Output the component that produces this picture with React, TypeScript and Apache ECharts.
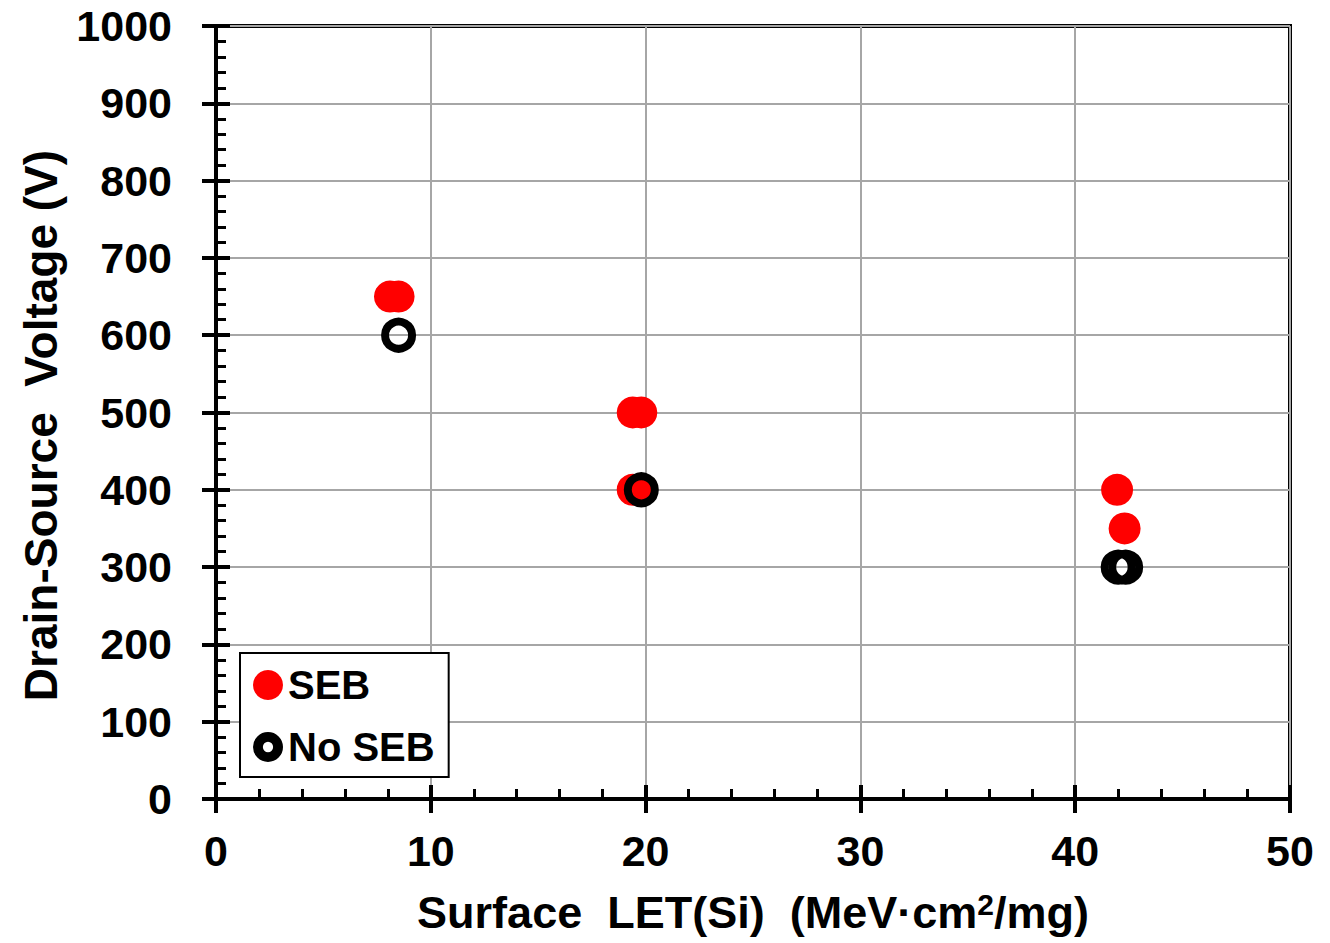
import React, { useEffect, useRef } from "react";
import * as echarts from "echarts";

const SEB_X = [8.1, 8.5, 19.4, 19.8, 19.4, 19.8, 41.95, 42.3];
const SEB_Y = [650, 650, 500, 500, 400, 400, 400, 350];
const NOSEB_X = [8.5, 19.8, 42.0, 42.35];
const NOSEB_Y = [600, 400, 300, 300];

const X_MIN = 0, X_MAX = 50, X_STEP = 10;
const Y_MIN = 0, Y_MAX = 1000, Y_STEP = 100;

const FONT = "'Liberation Sans', Arial, sans-serif";
const RING_PATH =
  "path://M16,0 A16,16 0 1,1 16,32 A16,16 0 1,1 16,0 Z M16,10.5 A5.5,5.5 0 1,0 16,21.5 A5.5,5.5 0 1,0 16,10.5 Z";

export default function App() {
  const ref = useRef<HTMLDivElement>(null);
  useEffect(() => {
    if (!ref.current) return;
    const chart = echarts.init(ref.current, null, { renderer: "svg" });
    const axisLine = { show: true, lineStyle: { color: "#000", width: 4 } };
    const label = { color: "#000", fontSize: 43, fontWeight: "bold" as const, fontFamily: FONT };
    const split = { show: true, lineStyle: { color: "#a6a6a6", width: 2 } };
    const fmt = (v: number) => String(v);
    chart.setOption({
      animation: false,
      grid: {
        left: 216, top: 26, right: 40, bottom: 144,
        show: true, borderColor: "#000", borderWidth: 4, backgroundColor: "#fff",
      },
      xAxis: [
        {
          type: "value", min: X_MIN, max: X_MAX, interval: X_STEP, position: "bottom", offset: 0,
          axisLine, axisTick: { show: true, inside: false, length: 14, lineStyle: { color: "#000", width: 4 } },
          axisLabel: { ...label, margin: 30, formatter: fmt },
          splitLine: split,
          name: "Surface  LET(Si)  (MeV·cm{sup|2}/mg)",
          nameLocation: "middle", nameGap: 90,
          nameTextStyle: {
            ...label, fontSize: 45,
            rich: { sup: { fontSize: 30, fontWeight: "bold", fontFamily: FONT, color: "#000", padding: [0, 0, 16, 0] } },
          },
        },
        {
          type: "value", min: X_MIN, max: X_MAX, interval: X_STEP, position: "bottom", offset: 0,
          axisLine, axisTick: { show: true, inside: true, length: 14, lineStyle: { color: "#000", width: 4 } },
          minorTick: { show: true, splitNumber: 5, length: 10, lineStyle: { color: "#000", width: 3 } },
          axisLabel: { show: false }, splitLine: { show: false },
        },
      ],
      yAxis: [
        {
          type: "value", min: Y_MIN, max: Y_MAX, interval: Y_STEP, position: "left", offset: 0,
          axisLine, axisTick: { show: true, inside: false, length: 14, lineStyle: { color: "#000", width: 4 } },
          axisLabel: { ...label, margin: 44, formatter: fmt },
          splitLine: split,
          name: "Drain-Source  Voltage (V)",
          nameLocation: "middle", nameGap: 152, nameRotate: 90,
          nameTextStyle: { ...label, fontSize: 46, padding: [0, 26, 0, 0] },
        },
        {
          type: "value", min: Y_MIN, max: Y_MAX, interval: Y_STEP, position: "left", offset: 0,
          axisLine, axisTick: { show: true, inside: true, length: 14, lineStyle: { color: "#000", width: 4 } },
          minorTick: { show: true, splitNumber: 5, length: 10, lineStyle: { color: "#000", width: 3 } },
          axisLabel: { show: false }, splitLine: { show: false },
        },
      ],
      legend: {
        orient: "vertical", left: 240, top: 653,
        backgroundColor: "#fff", borderColor: "#000", borderWidth: 2,
        padding: [12, 14, 10, 13], itemGap: 22, itemWidth: 30, itemHeight: 30,
        textStyle: { color: "#000", fontSize: 40, fontWeight: "bold", fontFamily: FONT },
        data: [
          { name: "SEB", icon: "circle" },
          { name: "No SEB", icon: RING_PATH, itemStyle: { color: "#000", borderWidth: 0 } },
        ],
      },
      series: [
        {
          name: "SEB", type: "scatter", xAxisIndex: 0, yAxisIndex: 0,
          symbol: "circle", symbolSize: 32,
          itemStyle: { color: "#ff0000", opacity: 1 },
          data: SEB_X.map((x, i) => [x, SEB_Y[i]]),
          z: 3,
        },
        {
          name: "No SEB", type: "scatter", xAxisIndex: 0, yAxisIndex: 0,
          symbol: "circle", symbolSize: 27,
          itemStyle: { color: "rgba(0,0,0,0)", borderColor: "#000", borderWidth: 8, opacity: 1 },
          data: NOSEB_X.map((x, i) => [x, NOSEB_Y[i]]),
          z: 4,
        },
      ],
    });
    return () => chart.dispose();
  }, []);
  return (
    <div
      ref={ref}
      style={{ position: "absolute", left: 0, top: 0, width: 1330, height: 943, background: "#fff" }}
    />
  );
}
